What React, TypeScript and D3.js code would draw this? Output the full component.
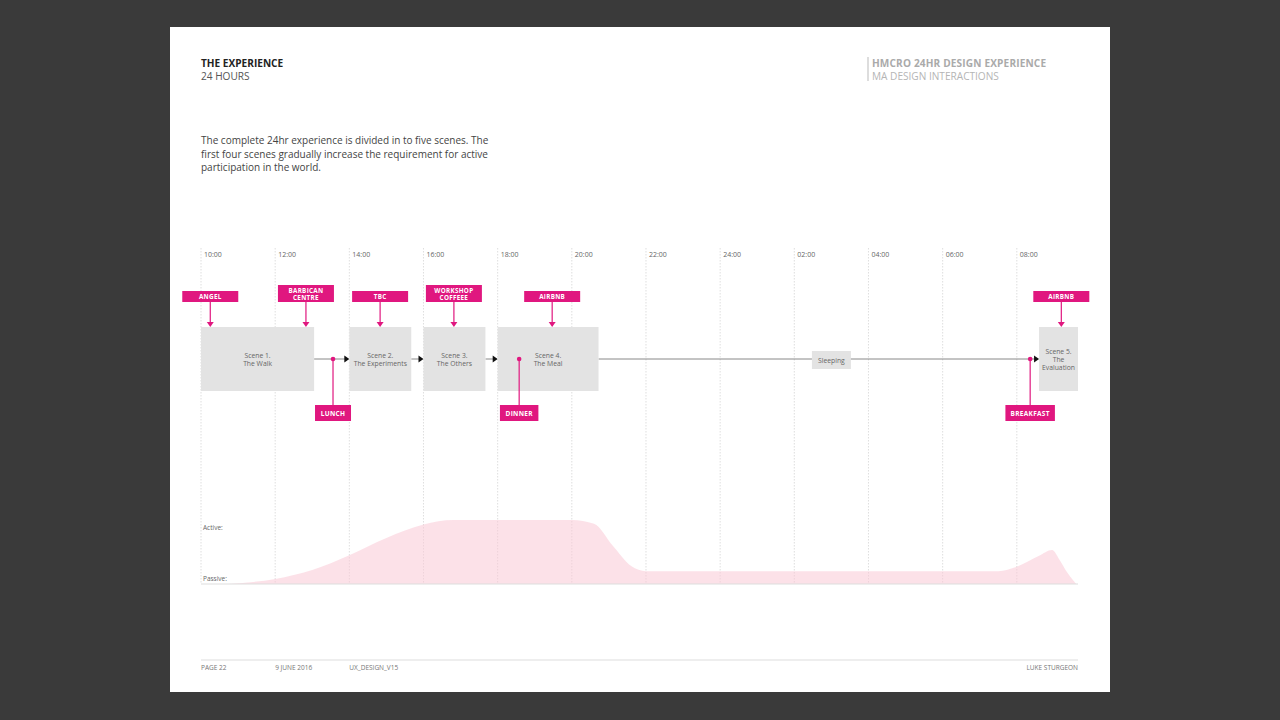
import React from 'react';
import * as d3 from 'd3';

// ---------- data ----------
const tickHours = [10, 12, 14, 16, 18, 20, 22, 24, 26, 28, 30, 32];
const tickLabels = ["10:00", "12:00", "14:00", "16:00", "18:00", "20:00", "22:00", "24:00", "02:00", "04:00", "06:00", "08:00"];

const sceneNames = [
  ["Scene 1.", "The Walk"],
  ["Scene 2.", "The Experiments"],
  ["Scene 3.", "The Others"],
  ["Scene 4.", "The Meal"],
  ["Scene 5.", "The", "Evaluation"],
];
const sceneStart = [10, 14, 16, 18, 32.6];
const sceneEnd = [13.05, 15.67, 17.67, 20.72, 33.65];

const sleepLabel = "Sleeping";
const sleepHour = 27;

const placeLabels = [["ANGEL"], ["BARBICAN", "CENTRE"], ["TBC"], ["WORKSHOP", "COFFEEE"], ["AIRBNB"], ["AIRBNB"]];
const placeHours = [10.25, 12.83, 14.83, 16.82, 19.47, 33.2];

const mealLabels = ["LUNCH", "DINNER", "BREAKFAST"];
const mealHours = [13.56, 18.58, 32.36];

const activityHours = [10.75, 12, 13, 14, 15, 16, 16.8, 20, 20.6, 21.1, 21.6, 22, 31.5, 32, 32.6, 32.95, 33.15, 33.37, 33.6];
const activityLevels = [0, 0.08, 0.22, 0.45, 0.72, 0.93, 1.0, 1.0, 0.94, 0.6, 0.28, 0.2, 0.2, 0.27, 0.44, 0.53, 0.38, 0.17, 0];

const footerItems = ["PAGE 22", "9 JUNE 2016", "UX_DESIGN_V15"];
const footerRight = "LUKE STURGEON";

const paragraph = [
  "The complete 24hr experience is divided in to five scenes. The",
  "first four scenes gradually increase the requirement for active",
  "participation in the world.",
];

// ---------- layout ----------
const FONT = "'Open Sans', 'Noto Sans', sans-serif";
const PINK = "#e0177f";
const x = d3.scaleLinear().domain([10, 33.65]).range([201, 1078]);
const yAct = d3.scaleLinear().domain([0, 1]).range([584, 520]);

const boxTop = 327, boxBottom = 391, flowY = 359;

function measure(text: string, font: string) {
  const c = document.createElement('canvas').getContext('2d');
  if (!c) return text.length * 5;
  c.font = font;
  return c.measureText(text).width;
}

export default function App() {
  const areaGen = d3.area<number>()
    .x((_, i) => x(activityHours[i]))
    .y0(yAct(0))
    .y1((d) => yAct(d))
    .curve(d3.curveMonotoneX);

  const flowSegs = sceneStart.slice(1).map((s, i) => ({ from: x(sceneEnd[i]), to: x(s) }));

  return (
    <svg width={1280} height={720} style={{ position: 'fixed', left: 0, top: 0 }} fontFamily={FONT}>
      <rect x={0} y={0} width={1280} height={720} fill="#3a3a3a" />
      <rect x={170} y={27} width={940} height={665} fill="#ffffff" />

      {/* header */}
      <text x={201} y={67} fontSize={10.1} fontWeight={700} fill="#222">THE EXPERIENCE</text>
      <text x={201} y={80} fontSize={10.1} fill="#555">24 HOURS</text>
      <line x1={868} x2={868} y1={57} y2={81} stroke="#bbb" strokeWidth={1} />
      <text x={872} y={67} fontSize={10.1} fontWeight={700} fill="#aaa" letterSpacing={0.15}>HMCRO 24HR DESIGN EXPERIENCE</text>
      <text x={872} y={80} fontSize={10.1} fill="#b5b5b5">MA DESIGN INTERACTIONS</text>

      {paragraph.map((p, i) => (
        <text key={i} x={201} y={144 + i * 13.5} fontSize={10} fill="#444">{p}</text>
      ))}

      {/* grid */}
      {tickHours.map((h, i) => (
        <g key={i}>
          <line x1={x(h)} x2={x(h)} y1={248} y2={584} stroke="#d6d6d6" strokeWidth={0.8} strokeDasharray="1.5,1.5" />
          <text x={x(h) + 3} y={257} fontSize={7} fill="#666">{tickLabels[i]}</text>
        </g>
      ))}

      {/* activity area */}
      <path d={areaGen(activityLevels) || ''} fill="#f9c9d6" fillOpacity={0.55} />
      <line x1={201} x2={1078} y1={584} y2={584} stroke="#ddd" strokeWidth={1} />
      <text x={203} y={530} fontSize={6.5} fill="#666">Active:</text>
      <text x={203} y={581} fontSize={6.5} fill="#666">Passive:</text>

      {/* flow line */}
      {flowSegs.map((s, i) => (
        <g key={i}>
          <line x1={s.from} x2={s.to - 4} y1={flowY} y2={flowY} stroke="#888" strokeWidth={1} />
          <path d={`M${s.to - 5},${flowY - 3.5} L${s.to},${flowY} L${s.to - 5},${flowY + 3.5} Z`} fill="#111" />
        </g>
      ))}

      {/* scenes */}
      {sceneNames.map((lines, i) => {
        const x0 = x(sceneStart[i]), x1 = x(sceneEnd[i]);
        const cx = (x0 + x1) / 2;
        const lh = 8;
        const startY = flowY - ((lines.length - 1) * lh) / 2 + 2.5;
        return (
          <g key={i}>
            <rect x={x0} y={boxTop} width={x1 - x0} height={boxBottom - boxTop} fill="#e3e3e3" />
            {lines.map((l, j) => (
              <text key={j} x={cx} y={startY + j * lh} fontSize={6.8} fill="#666" textAnchor="middle">{l}</text>
            ))}
          </g>
        );
      })}

      {/* sleeping */}
      <rect x={x(sleepHour) - 19.5} y={351} width={39} height={18} fill="#e3e3e3" />
      <text x={x(sleepHour)} y={362.5} fontSize={6.8} fill="#666" textAnchor="middle">{sleepLabel}</text>

      {/* place markers (top) */}
      {placeLabels.map((lines, i) => {
        const cx = x(placeHours[i]);
        const h = lines.length === 1 ? 11 : 17;
        const bottom = 302;
        return (
          <g key={i}>
            <line x1={cx} x2={cx} y1={bottom} y2={322} stroke={PINK} strokeWidth={1.2} />
            <path d={`M${cx - 3.5},${322} L${cx + 3.5},${322} L${cx},${327} Z`} fill={PINK} />
            <rect x={cx - 28} y={bottom - h} width={56} height={h} fill={PINK} />
            {lines.map((l, j) => (
              <text key={j} x={cx} y={bottom - h + 8.3 + j * 6.8} fontSize={6.3} fontWeight={700} fill="#fff" textAnchor="middle" letterSpacing={0.3}>{l}</text>
            ))}
          </g>
        );
      })}

      {/* meal markers (bottom) */}
      {mealLabels.map((l, i) => {
        const cx = x(mealHours[i]);
        const w = measure(l, `700 6.5px ${FONT}`) + 13;
        return (
          <g key={i}>
            <line x1={cx} x2={cx} y1={flowY} y2={405} stroke={PINK} strokeWidth={1.2} />
            <circle cx={cx} cy={flowY} r={2.3} fill={PINK} />
            <rect x={cx - w / 2} y={405} width={w} height={16} fill={PINK} />
            <text x={cx} y={415.5} fontSize={6.5} fontWeight={700} fill="#fff" textAnchor="middle" letterSpacing={0.3}>{l}</text>
          </g>
        );
      })}

      {/* footer */}
      <line x1={201} x2={1078} y1={660} y2={660} stroke="#ddd" strokeWidth={1} />
      {footerItems.map((f, i) => (
        <text key={i} x={x(tickHours[i])} y={670} fontSize={6.5} fill="#777">{f}</text>
      ))}
      <text x={1078} y={670} fontSize={6.5} fill="#777" textAnchor="end">{footerRight}</text>
    </svg>
  );
}
